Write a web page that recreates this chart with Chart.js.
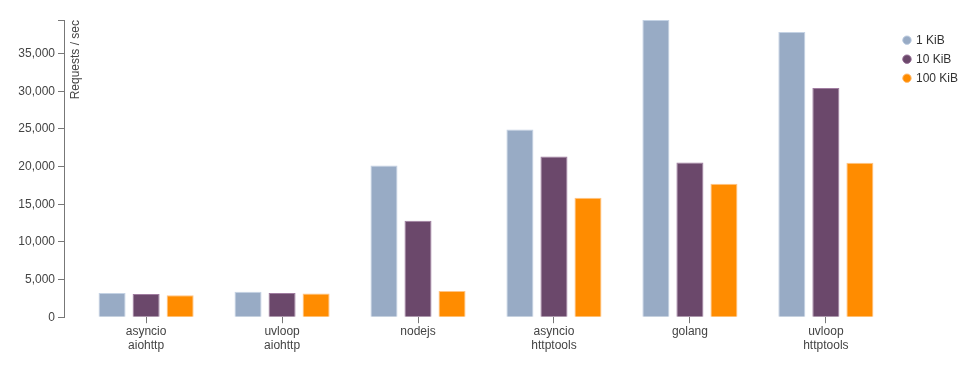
<!DOCTYPE html>
<html>
<head>
<meta charset="utf-8">
<script src="https://cdn.jsdelivr.net/npm/chart.js@4"></script>
<style>
  html, body { margin: 0; padding: 0; background: #fff; }
  #wrap { width: 973px; height: 370px; }
</style>
</head>
<body>
<div id="wrap"><canvas id="barChart"></canvas></div>
<script>
const categories = [['asyncio', 'aiohttp'], ['uvloop', 'aiohttp'], 'nodejs', ['asyncio', 'httptools'], 'golang', ['uvloop', 'httptools']];
const seriesNames = ['1 KiB', '10 KiB', '100 KiB'];
const kib1 = [3200, 3380, 20130, 24930, 39450, 37870];
const kib10 = [3070, 3200, 12800, 21330, 20530, 30440];
const kib100 = [2930, 3150, 3470, 15870, 17730, 20500];
const yTicks = [0, 5000, 10000, 15000, 20000, 25000, 30000, 35000];

const colors = ['#98abc5', '#6b486b', '#ff8c00'];
const edges = ['rgba(190,205,225,0.9)', 'rgba(150,110,150,0.9)', 'rgba(255,190,120,0.9)'];
const axisColor = '#777';
const textColor = '#444';
const font = { family: 'Arial, "Liberation Sans", sans-serif', size: 12 };

const yMax = Math.max(...kib1, ...kib10, ...kib100);

// rotated axis label inside the plot + outer tick at top of y axis
const axisLabel = {
    id: 'axisLabel',
    afterDraw(chart) {
        const { ctx, chartArea } = chart;
        ctx.save();
        ctx.strokeStyle = axisColor;
        ctx.lineWidth = 1;
        ctx.beginPath();
        ctx.moveTo(chartArea.left - 6, chartArea.top + 0.5);
        ctx.lineTo(chartArea.left, chartArea.top + 0.5);
        ctx.stroke();
        ctx.translate(chartArea.left + 14.5, chartArea.top);
        ctx.rotate(-Math.PI / 2);
        ctx.font = '12px ' + font.family;
        ctx.fillStyle = textColor;
        ctx.textAlign = 'right';
        ctx.textBaseline = 'alphabetic';
        ctx.fillText('Requests / sec', 0, 0);
        ctx.restore();
    }
};

const ctxBar = document.getElementById('barChart').getContext('2d');
const barChart = new Chart(ctxBar, {
    type: 'bar',
    data: {
        datasets: [kib1, kib10, kib100].map((vals, k) => ({
            label: seriesNames[k],
            data: vals.map((v, i) => ({ x: i, y: v })),
            backgroundColor: colors[k],
            borderColor: edges[k],
            borderWidth: 1,
            categoryPercentage: 0.751,
            barPercentage: 0.794
        }))
    },
    options: {
        responsive: true,
        maintainAspectRatio: false,
        animation: false,
        layout: { padding: { top: 20, left: 0, right: 5, bottom: 16 } },
        plugins: {
            tooltip: { enabled: false },
            legend: {
                position: 'right',
                align: 'start',
                title: { display: true, text: '', font: { size: 1 }, padding: { top: 3, bottom: 3 } },
                labels: {
                    usePointStyle: true,
                    pointStyle: 'circle',
                    boxWidth: 6,
                    boxHeight: 6,
                    padding: 7,
                    color: '#333',
                    font: font
                }
            }
        },
        scales: {
            x: {
                type: 'linear',
                min: -0.604,
                max: 5.523,
                offset: false,
                afterBuildTicks: (s) => { s.ticks = categories.map((c, i) => ({ value: i })); },
                ticks: {
                    color: textColor,
                    font: font,
                    padding: 1,
                    maxRotation: 0,
                    autoSkip: false,
                    callback: (v) => categories[v]
                },
                grid: { offset: false, drawOnChartArea: false, tickLength: 6, color: axisColor },
                border: { display: false }
            },
            y: {
                min: 0,
                max: yMax,
                afterBuildTicks: (s) => { s.ticks = yTicks.map(v => ({ value: v })); },
                afterFit: (s) => { s.width = 64; },
                ticks: {
                    color: textColor,
                    font: font,
                    padding: 3,
                    callback: (v) => v.toLocaleString('en-US')
                },
                grid: { drawOnChartArea: false, tickLength: 6, color: axisColor },
                border: { display: true, color: axisColor }
            }
        }
    },
    plugins: [axisLabel]
});
</script>
</body>
</html>
